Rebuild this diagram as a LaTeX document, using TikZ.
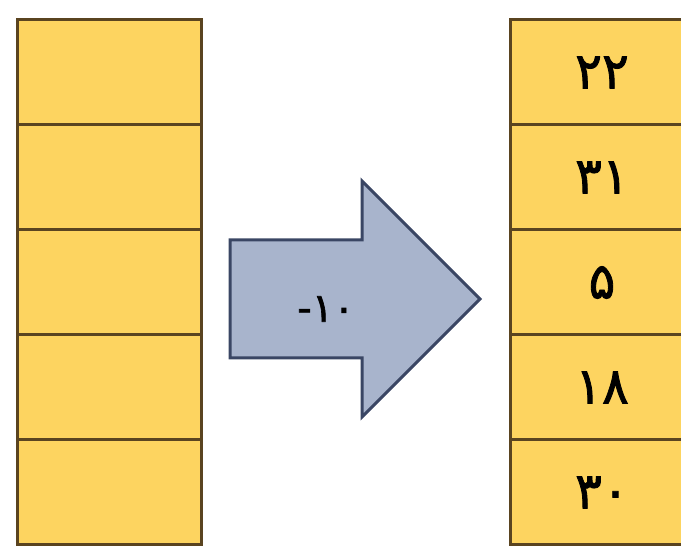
\documentclass[tikz,border=0pt]{standalone}
\usepackage{fontspec}
\usepackage{xcolor}
\usepackage{tikz}
\usetikzlibrary{calc, positioning}
\newfontfamily\fadigits[BoldFont={DejaVu Sans}, BoldFeatures={FakeBold=1.6}]{DejaVu Sans}
\definecolor{cellfill}{HTML}{FDD460}
\definecolor{celledge}{HTML}{5A4420}
\definecolor{arrowfill}{HTML}{A8B4CC}
\definecolor{arrowedge}{HTML}{3A4664}
\tikzset{
    cellnode/.style = {draw=celledge, fill=cellfill, rectangle, line width=3pt, inner sep = 0em,
      minimum width=184pt, minimum height=105pt, node distance=0em,
      font=\fadigits\bfseries\fontsize{50}{60}\selectfont},
    blockarrow/.style = {draw=arrowedge, fill=arrowfill, line width=3pt, line join=miter},
    textnode/.style  = {draw=none, fill=none, rectangle, inner sep = 0em,
      node distance=0em, font=\fadigits\bfseries\fontsize{40}{48}\selectfont}
}
\begin{document}
\begin{tikzpicture}[x=1pt, y=1pt]
\useasboundingbox (0,0) rectangle (681,559);
\clip (0,0) rectangle (681,559);
% left column, empty
\node[cellnode, name=L1] at (109,486.5) {};
\node[cellnode, name=L2, below of = L1, yshift=-105pt] {};
\node[cellnode, name=L3, below of = L2, yshift=-105pt] {};
\node[cellnode, name=L4, below of = L3, yshift=-105pt] {};
\node[cellnode, name=L5, below of = L4, yshift=-105pt] {};
% right column, filled
\node[cellnode, name=R1] at (602,486.5) {۲۲};
\node[cellnode, name=R2, below of = R1, yshift=-105pt] {۳۱};
\node[cellnode, name=R3, below of = R2, yshift=-105pt] {۵};
\node[cellnode, name=R4, below of = R3, yshift=-105pt] {۱۸};
\node[cellnode, name=R5, below of = R4, yshift=-105pt] {۳۰};
% block arrow
\draw[blockarrow] (230,201) -- (230,319) -- (362,319) -- (362,378)
  -- (480,260) -- (362,142) -- (362,201) -- cycle;
\node[textnode, name=shift] at (326,250) {-۱۰};
\end{tikzpicture}
\end{document}
